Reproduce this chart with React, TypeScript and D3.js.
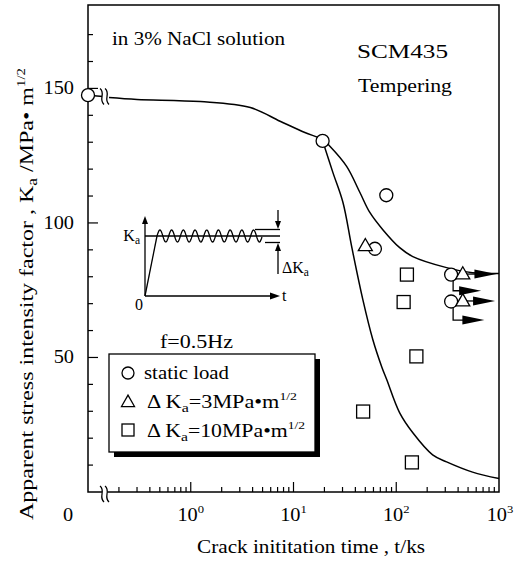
import React from 'react';
import * as d3 from 'd3';

// static load (t = 0 point drawn on the left axis)
const staticT = [0, 19.2, 80, 62, 342, 342];
const staticK = [147.5, 130.5, 110.3, 90.4, 80.8, 70.8];
// run-out: step down to K, then arrow to tip t
const staticDropK = [null, null, null, null, 74.8, 63.9];
const staticTipT = [null, null, null, null, 670, 721];

// dKa = 3 MPa m^1/2
const tri3T = [50, 444, 444];
const tri3K = [91.5, 81, 71];
const tri3TipT = [null, 944, 916];

// dKa = 10 MPa m^1/2
const sq10T = [127, 118, 157, 47.6, 142];
const sq10K = [80.8, 70.6, 50.4, 29.9, 11];

// fitted curves
const upperT = [0.16, 0.3, 1.24, 3.8, 7.4, 12.9, 19.2, 22.6, 32.9, 44.3, 55.3, 74, 108, 145, 309, 553, 1000];
const upperK = [146.6, 145.9, 145.1, 142.9, 137.8, 133.6, 131, 128.5, 121, 111.3, 103.9, 97.5, 90.8, 87.5, 83.4, 81.5, 81.2];
const lowerT = [19.2, 24.2, 30.3, 37, 47.3, 59.2, 72.3, 80.9, 108, 145, 226, 309, 553, 1000];
const lowerK = [130.5, 118.7, 107.6, 90.8, 71.5, 56.6, 46.5, 41.7, 29.4, 22, 13.8, 11.2, 7.4, 5];

const yTicks = [10, 20, 30, 40, 50, 60, 70, 80, 90, 100, 110, 120, 130, 140, 150, 160, 170];
const yLabels = [50, 100, 150];
const xDecades = [0, 1, 2, 3];
const breakT = 0.14;

const FONT = "'Liberation Serif', 'Times New Roman', serif";

const T = ({ x, y, children, anchor = 'start', size = 18, len, rot = 0, sx = 1 }: any) => (
  <text
    transform={`translate(${x},${y}) rotate(${rot}) scale(${sx},1)`}
    textAnchor={anchor}
    fontSize={size}
    fontFamily={FONT}
    textLength={len}
    lengthAdjust={len ? 'spacingAndGlyphs' : undefined}
  >
    {children}
  </text>
);

const Tri = ({ cx, cy, s = 7 }: any) => (
  <path d={`M${cx},${cy - s * 1.05} L${cx + s},${cy + s * 0.7} L${cx - s},${cy + s * 0.7} Z`} fill="white" stroke="black" strokeWidth={1.3} />
);
const Sq = ({ cx, cy, s = 6.5 }: any) => (
  <rect x={cx - s} y={cy - s} width={2 * s} height={2 * s} fill="white" stroke="black" strokeWidth={1.3} />
);
const Circ = ({ cx, cy, r = 6.5 }: any) => (
  <circle cx={cx} cy={cy} r={r} fill="white" stroke="black" strokeWidth={1.3} />
);
const Head = ({ tx, ty, len = 22, w = 4.5 }: any) => (
  <path d={`M${tx},${ty} L${tx - len},${ty - w} L${tx - len},${ty + w} Z`} fill="black" />
);

const BreakMark = ({ cx, cy }: any) => (
  <g>
    <path d={`M${cx - 3},${cy - 8} C${cx + 3},${cy - 3} ${cx - 5},${cy + 3} ${cx + 1},${cy + 8} L${cx + 6},${cy + 8} C${cx},${cy + 3} ${cx + 8},${cy - 3} ${cx + 2},${cy - 8} Z`} fill="white" stroke="none" />
    <path d={`M${cx - 3},${cy - 8} C${cx + 3},${cy - 3} ${cx - 5},${cy + 3} ${cx + 1},${cy + 8}`} fill="none" stroke="black" strokeWidth={1.3} />
    <path d={`M${cx + 2},${cy - 8} C${cx + 8},${cy - 3} ${cx},${cy + 3} ${cx + 6},${cy + 8}`} fill="none" stroke="black" strokeWidth={1.3} />
  </g>
);

// text with K subscript a, then rest, then optional superscript
const KaText = ({ pre, rest, sup, sd = 4, pd = 8 }: any) => (
  <>
    <tspan>{pre}K</tspan>
    <tspan dy={sd} fontSize="0.72em">a</tspan>
    <tspan dy={-sd}>{rest}</tspan>
    {sup ? <tspan dy={-pd} fontSize="0.62em">{sup}</tspan> : null}
  </>
);

const Inset = ({ ox, oy }: any) => {
  const wave: [number, number][] = [];
  for (let i = 0; i <= 210; i++) {
    const px = 12 + i * 0.5;
    wave.push([px, -60 - 6 * Math.sin((2 * Math.PI * (px - 12)) / 11.7)]);
  }
  const wl = d3.line();
  return (
    <g transform={`translate(${ox},${oy})`} stroke="black" strokeWidth={1.3} fill="none">
      <line x1={0} y1={0} x2={0} y2={-74} />
      <path d="M0,-80 L-3,-72 L3,-72 Z" fill="black" stroke="none" />
      <line x1={0} y1={0} x2={128} y2={0} />
      <path d="M135,0 L125,-3.5 L125,3.5 Z" fill="black" stroke="none" />
      <line x1={0} y1={0} x2={12} y2={-60} />
      <line x1={0} y1={-60} x2={135} y2={-60} />
      <path d={wl(wave) || ''} />
      <line x1={110} y1={-66.5} x2={135} y2={-66.5} />
      <line x1={120} y1={-53.5} x2={135} y2={-53.5} />
      <line x1={133} y1={-86} x2={133} y2={-72} />
      <path d="M133,-67 L130,-75 L136,-75 Z" fill="black" stroke="none" />
      <line x1={133} y1={-22} x2={133} y2={-48} />
      <path d="M133,-53 L130,-45 L136,-45 Z" fill="black" stroke="none" />
      <g stroke="none" fill="black">
        <T x={-5} y={-55} anchor="end" size={16}><KaText pre="" rest="" sd={3} /></T>
        <T x={-6} y={14} anchor="middle" size={16}>0</T>
        <T x={137} y={5} size={16}>t</T>
        <T x={137} y={-23} size={16}><KaText pre={'\u0394'} rest="" sd={3} /></T>
      </g>
    </g>
  );
};

export default function App() {
  const W = 514, H = 563;
  const x = d3.scaleLog().domain([0.1, 1000]).range([88, 499]);
  const y = d3.scaleLinear().domain([0, 181]).range([492, 5]);
  const px = (t: number) => (t === 0 ? x(0.1) : x(t));

  const line = d3.line<[number, number]>()
    .x(d => x(d[0]))
    .y(d => y(d[1]))
    .curve(d3.curveCatmullRom.alpha(0.5));
  const upper = line(upperT.map((t, i) => [t, upperK[i]]));
  const lower = line(lowerT.map((t, i) => [t, lowerK[i]]));

  const minor: number[] = [];
  for (let e = -1; e < 3; e++) for (let m = 2; m <= 9; m++) minor.push(m * Math.pow(10, e));

  const xb = x(breakT);

  return (
    <svg width={W} height={H} style={{ position: 'absolute', left: 0, top: 0, background: 'white' }}>
      <rect width={W} height={H} fill="white" />
      {/* frame */}
      <rect x={88} y={5} width={411} height={487} fill="none" stroke="black" strokeWidth={1.5} />
      {/* y ticks */}
      {yTicks.map(v => (
        <line key={v} x1={88} x2={88 + (v % 50 === 0 ? 10 : 5)} y1={y(v)} y2={y(v)} stroke="black" strokeWidth={1.2} />
      ))}
      {/* x ticks */}
      {minor.map(t => (
        <line key={t} x1={x(t)} x2={x(t)} y1={492} y2={487} stroke="black" strokeWidth={1.2} />
      ))}
      {xDecades.slice(0, 3).map(e => (
        <line key={e} x1={x(Math.pow(10, e))} x2={x(Math.pow(10, e))} y1={492} y2={482} stroke="black" strokeWidth={1.2} />
      ))}
      <BreakMark cx={xb} cy={494} />

      {/* tick labels */}
      {yLabels.map(v => (
        <T key={v} x={74} y={y(v) + 6} anchor="end" sx={1.13}>{v}</T>
      ))}
      <T x={68} y={521} anchor="middle" sx={1.13}>0</T>
      {xDecades.map(e => (
        <T key={e} x={x(Math.pow(10, e)) + (e === 3 ? 1 : 0)} y={521} anchor="middle" sx={1.13}>
          <tspan>10</tspan>
          <tspan dy={-8} fontSize="0.62em">{e}</tspan>
        </T>
      ))}

      {/* axis titles */}
      <T x={311} y={553} anchor="middle" len={228}>Crack inititation time , t/ks</T>
      <T x={33} y={294} anchor="middle" rot={-90} size={19} len={452}>
        <KaText pre="Apparent stress intensity factor , " rest={' /MPa\u2022 m'} sup="1/2" />
      </T>

      {/* annotations */}
      <T x={112} y={45} len={173}>in 3% NaCl solution</T>
      <T x={357} y={58} len={91}>SCM435</T>
      <T x={358} y={92} len={94}>Tempering</T>
      <T x={160} y={348} len={73}>f=0.5Hz</T>

      {/* curves */}
      <line x1={px(0)} y1={y(staticK[0])} x2={xb} y2={y(147)} stroke="black" strokeWidth={1.5} />
      <path d={upper || ''} fill="none" stroke="black" strokeWidth={1.5} />
      <path d={lower || ''} fill="none" stroke="black" strokeWidth={1.5} />
      <BreakMark cx={xb} cy={y(147)} />

      <Inset ox={145} oy={296} />

      {/* run-out arrows */}
      {staticT.map((t, i) =>
        staticDropK[i] == null ? null : (
          <g key={'sa' + i}>
            <path d={`M${px(t) + 2},${y(staticK[i])} V${y(staticDropK[i] as number)} H${x(staticTipT[i] as number) - 20}`} fill="none" stroke="black" strokeWidth={1.3} />
            <Head tx={x(staticTipT[i] as number)} ty={y(staticDropK[i] as number)} />
          </g>
        )
      )}
      {tri3T.map((t, i) =>
        tri3TipT[i] == null ? null : (
          <g key={'ta' + i}>
            <line x1={px(t)} y1={y(tri3K[i])} x2={x(tri3TipT[i] as number) - 20} y2={y(tri3K[i])} stroke="black" strokeWidth={1.3} />
            <Head tx={x(tri3TipT[i] as number)} ty={y(tri3K[i])} />
          </g>
        )
      )}

      {/* points */}
      {staticT.map((t, i) => <Circ key={'c' + i} cx={px(t)} cy={y(staticK[i])} />)}
      {tri3T.map((t, i) => <Tri key={'t' + i} cx={px(t)} cy={y(tri3K[i])} />)}
      {sq10T.map((t, i) => <Sq key={'s' + i} cx={px(t)} cy={y(sq10K[i])} />)}

      {/* legend */}
      <rect x={114} y={359} width={206} height={98} fill="black" />
      <rect x={109} y={354} width={206} height={98} fill="white" stroke="black" strokeWidth={1.3} />
      <Circ cx={128} cy={373} r={6} />
      <T x={144} y={379} len={85}>static load</T>
      <Tri cx={128} cy={402} s={6.5} />
      <T x={147} y={408} len={150}>
        <KaText pre={'\u0394 '} rest={'=3MPa\u2022m'} sup="1/2" />
      </T>
      <Sq cx={128} cy={430} s={6} />
      <T x={147} y={437} len={158}>
        <KaText pre={'\u0394 '} rest={'=10MPa\u2022m'} sup="1/2" />
      </T>
    </svg>
  );
}
